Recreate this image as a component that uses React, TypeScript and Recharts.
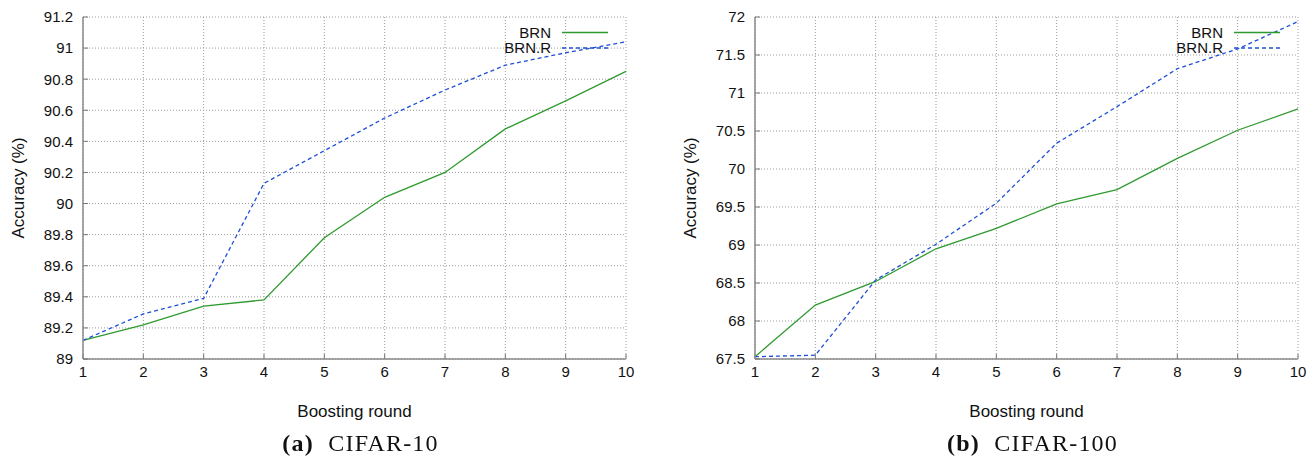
import React from 'react';
import { LineChart, Line, XAxis, YAxis, CartesianGrid } from 'recharts';

const rounds = [1, 2, 3, 4, 5, 6, 7, 8, 9, 10];

// CIFAR-10
const brn10 = [89.12, 89.22, 89.34, 89.38, 89.78, 90.04, 90.2, 90.48, 90.66, 90.85];
const brnR10 = [89.12, 89.29, 89.39, 90.13, 90.34, 90.55, 90.73, 90.89, 90.97, 91.04];
const ticks10 = [89, 89.2, 89.4, 89.6, 89.8, 90, 90.2, 90.4, 90.6, 90.8, 91, 91.2];

// CIFAR-100
const brn100 = [67.53, 68.21, 68.52, 68.95, 69.22, 69.54, 69.73, 70.14, 70.51, 70.79];
const brnR100 = [67.53, 67.55, 68.54, 69.01, 69.55, 70.34, 70.82, 71.32, 71.58, 71.94];
const ticks100 = [67.5, 68, 68.5, 69, 69.5, 70, 70.5, 71, 71.5, 72];

const seriesNames = ['BRN', 'BRN.R'];
const GREEN = '#2f9a2f';
const BLUE = '#1f4fd6';
const FONT = '"Liberation Sans", Arial, Helvetica, sans-serif';

interface PanelProps {
  left: number;
  brn: number[];
  brnR: number[];
  ticks: number[];
  tag: string;
  caption: string;
}

const Panel: React.FC<PanelProps> = ({ left, brn, brnR, ticks, tag, caption }) => {
  const data = rounds.map((r, i) => ({ round: r, brn: brn[i], brnR: brnR[i] }));
  const tickStyle = { fontSize: 15, fill: '#111', fontFamily: FONT };
  const axisStyle = { stroke: '#8a8a8a', strokeWidth: 1.5 };
  // plot spans x 83..626 inside a 660 wide chart
  return (
    <div style={{ position: 'absolute', left, top: 0, width: 660, height: 456 }}>
      <LineChart width={660} height={420} data={data} margin={{ top: 17, right: 34, bottom: 0, left: 0 }}>
        <CartesianGrid stroke="#9a9a9a" strokeDasharray="1 2" />
        <XAxis
          dataKey="round"
          type="number"
          domain={[1, 10]}
          ticks={rounds}
          height={61}
          tickSize={-5}
          tickMargin={12}
          tickLine={{ stroke: '#777' }}
          axisLine={axisStyle}
          tick={tickStyle}
          label={{ value: 'Boosting round', position: 'insideBottom', offset: 3, style: { fontSize: 17, fill: '#111', fontFamily: FONT } }}
        />
        <YAxis
          type="number"
          domain={[ticks[0], ticks[ticks.length - 1]]}
          ticks={ticks}
          width={83}
          tickSize={-5}
          tickMargin={15}
          tickLine={{ stroke: '#777' }}
          axisLine={axisStyle}
          tick={tickStyle}
          label={{ value: 'Accuracy (%)', angle: -90, position: 'insideLeft', offset: 18, style: { textAnchor: 'middle', fontSize: 17, fill: '#111', fontFamily: FONT } }}
        />
        <Line type="linear" dataKey="brn" stroke={GREEN} strokeWidth={1.3} dot={false} isAnimationActive={false} />
        <Line type="linear" dataKey="brnR" stroke={BLUE} strokeWidth={1.3} strokeDasharray="4 3" dot={false} isAnimationActive={false} />
      </LineChart>
      <svg style={{ position: 'absolute', left: 0, top: 0 }} width={660} height={60}>
        {seriesNames.map((name, i) => (
          <g key={name}>
            <text x={551} y={38 + i * 15} textAnchor="end" fontSize={15} fontFamily={FONT} fill="#111">{name}</text>
            <line x1={562} x2={608} y1={32.5 + i * 15.5} y2={32.5 + i * 15.5} stroke={i === 0 ? GREEN : BLUE} strokeWidth={1.3} strokeDasharray={i === 0 ? undefined : '4 3'} />
          </g>
        ))}
      </svg>
      <div style={{ position: 'absolute', left: 89, width: 543, top: 429, textAlign: 'center', fontFamily: '"Liberation Serif", "DejaVu Serif", serif', fontSize: 24, letterSpacing: 1.2, color: '#111', lineHeight: '28px' }}>
        <b>{tag}</b>&nbsp; {caption}
      </div>
    </div>
  );
};

export default function App() {
  return (
    <div style={{ position: 'fixed', left: 0, top: 0, width: 1309, height: 456, background: '#fff' }}>
      <Panel left={0} brn={brn10} brnR={brnR10} ticks={ticks10} tag="(a)" caption="CIFAR-10" />
      <Panel left={672} brn={brn100} brnR={brnR100} ticks={ticks100} tag="(b)" caption="CIFAR-100" />
    </div>
  );
}
